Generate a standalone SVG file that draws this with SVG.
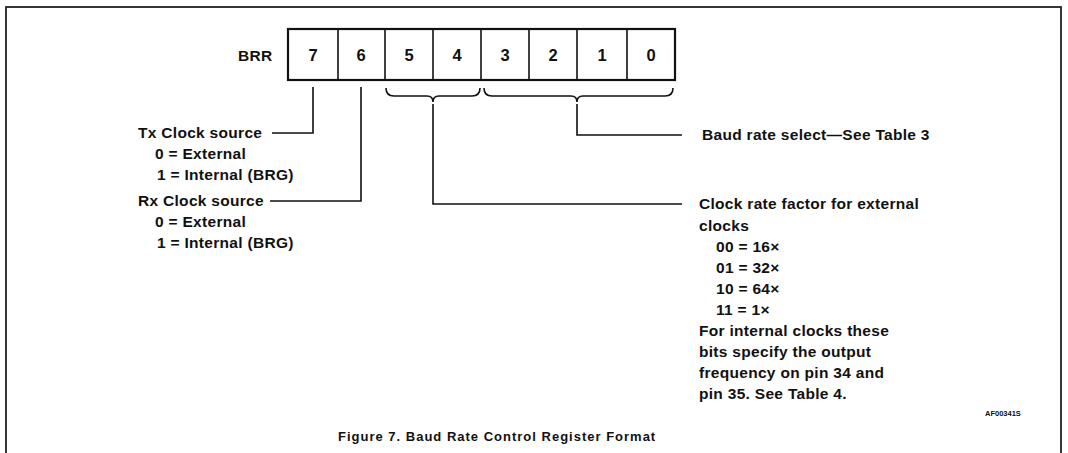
<svg xmlns="http://www.w3.org/2000/svg" width="1068" height="453" viewBox="0 0 1068 453">
<style>
  text { font-family: "Liberation Sans", Arial, sans-serif; font-weight: bold; fill: #111; }
  .t { font-size: 15.5px; letter-spacing: 0.3px; }
  .d { font-size: 16.5px; text-anchor: middle; }
  .ln { fill: none; stroke: #111; stroke-width: 1.6; }
  .cell { fill: #fff; stroke: #111; stroke-width: 2.2; }
</style>
<rect x="6" y="7" width="1055" height="470" fill="#fff" stroke="#222" stroke-width="1.8"/>
<g id="register">
  <text class="t" x="238" y="61" font-size="16">BRR</text>
  <rect class="cell" x="288" y="29" width="387" height="51"/>
  <g class="ln">
    <line x1="338" y1="29" x2="338" y2="80"/>
    <line x1="385" y1="29" x2="385" y2="80"/>
    <line x1="433" y1="29" x2="433" y2="80"/>
    <line x1="481" y1="29" x2="481" y2="80"/>
    <line x1="529" y1="29" x2="529" y2="80"/>
    <line x1="577" y1="29" x2="577" y2="80"/>
    <line x1="627" y1="29" x2="627" y2="80"/>
  </g>
  <text class="d" x="313" y="61">7</text>
  <text class="d" x="361" y="61">6</text>
  <text class="d" x="409" y="61">5</text>
  <text class="d" x="457" y="61">4</text>
  <text class="d" x="505" y="61">3</text>
  <text class="d" x="553" y="61">2</text>
  <text class="d" x="602" y="61">1</text>
  <text class="d" x="651" y="61">0</text>
</g>
<g id="connectors" class="ln">
  <path d="M386,88 Q386,96 394,96 L427,96 Q433,96 433,102 Q433,96 439,96 L472,96 Q480,96 480,88"/>
  <path d="M484,88 Q484,96 492,96 L571,96 Q577,96 577,102 Q577,96 583,96 L665,96 Q673,96 673,88"/>
  <polyline points="313,87 313,133 272,133"/>
  <polyline points="361,87 361,201 270,201"/>
  <polyline points="433,104 433,204 682,204"/>
  <polyline points="577,104 577,135 682,135"/>
</g>
<g id="tx-label">
  <text class="t" x="138" y="138">Tx Clock source</text>
  <text class="t" x="155" y="159">0 = External</text>
  <text class="t" x="157" y="180">1 = Internal (BRG)</text>
</g>
<g id="rx-label">
  <text class="t" x="138" y="206">Rx Clock source</text>
  <text class="t" x="155" y="227">0 = External</text>
  <text class="t" x="157" y="248">1 = Internal (BRG)</text>
</g>
<g id="baud-label">
  <text class="t" x="702" y="140" letter-spacing="0">Baud rate select—See Table 3</text>
</g>
<g id="clock-label">
  <text class="t" x="699" y="209">Clock rate factor for external</text>
  <text class="t" x="699" y="231">clocks</text>
  <text class="t" x="716" y="252">00 = 16×</text>
  <text class="t" x="716" y="273">01 = 32×</text>
  <text class="t" x="716" y="294">10 = 64×</text>
  <text class="t" x="716" y="315">11 = 1×</text>
  <text class="t" x="699" y="336">For internal clocks these</text>
  <text class="t" x="699" y="357">bits specify the output</text>
  <text class="t" x="699" y="378">frequency on pin 34 and</text>
  <text class="t" x="699" y="399">pin 35. See Table 4.</text>
</g>
<text x="985" y="416" font-size="7.5px">AF00341S</text>
<text x="338" y="441" font-size="13px" letter-spacing="1">Figure 7. Baud Rate Control Register Format</text>
</svg>
